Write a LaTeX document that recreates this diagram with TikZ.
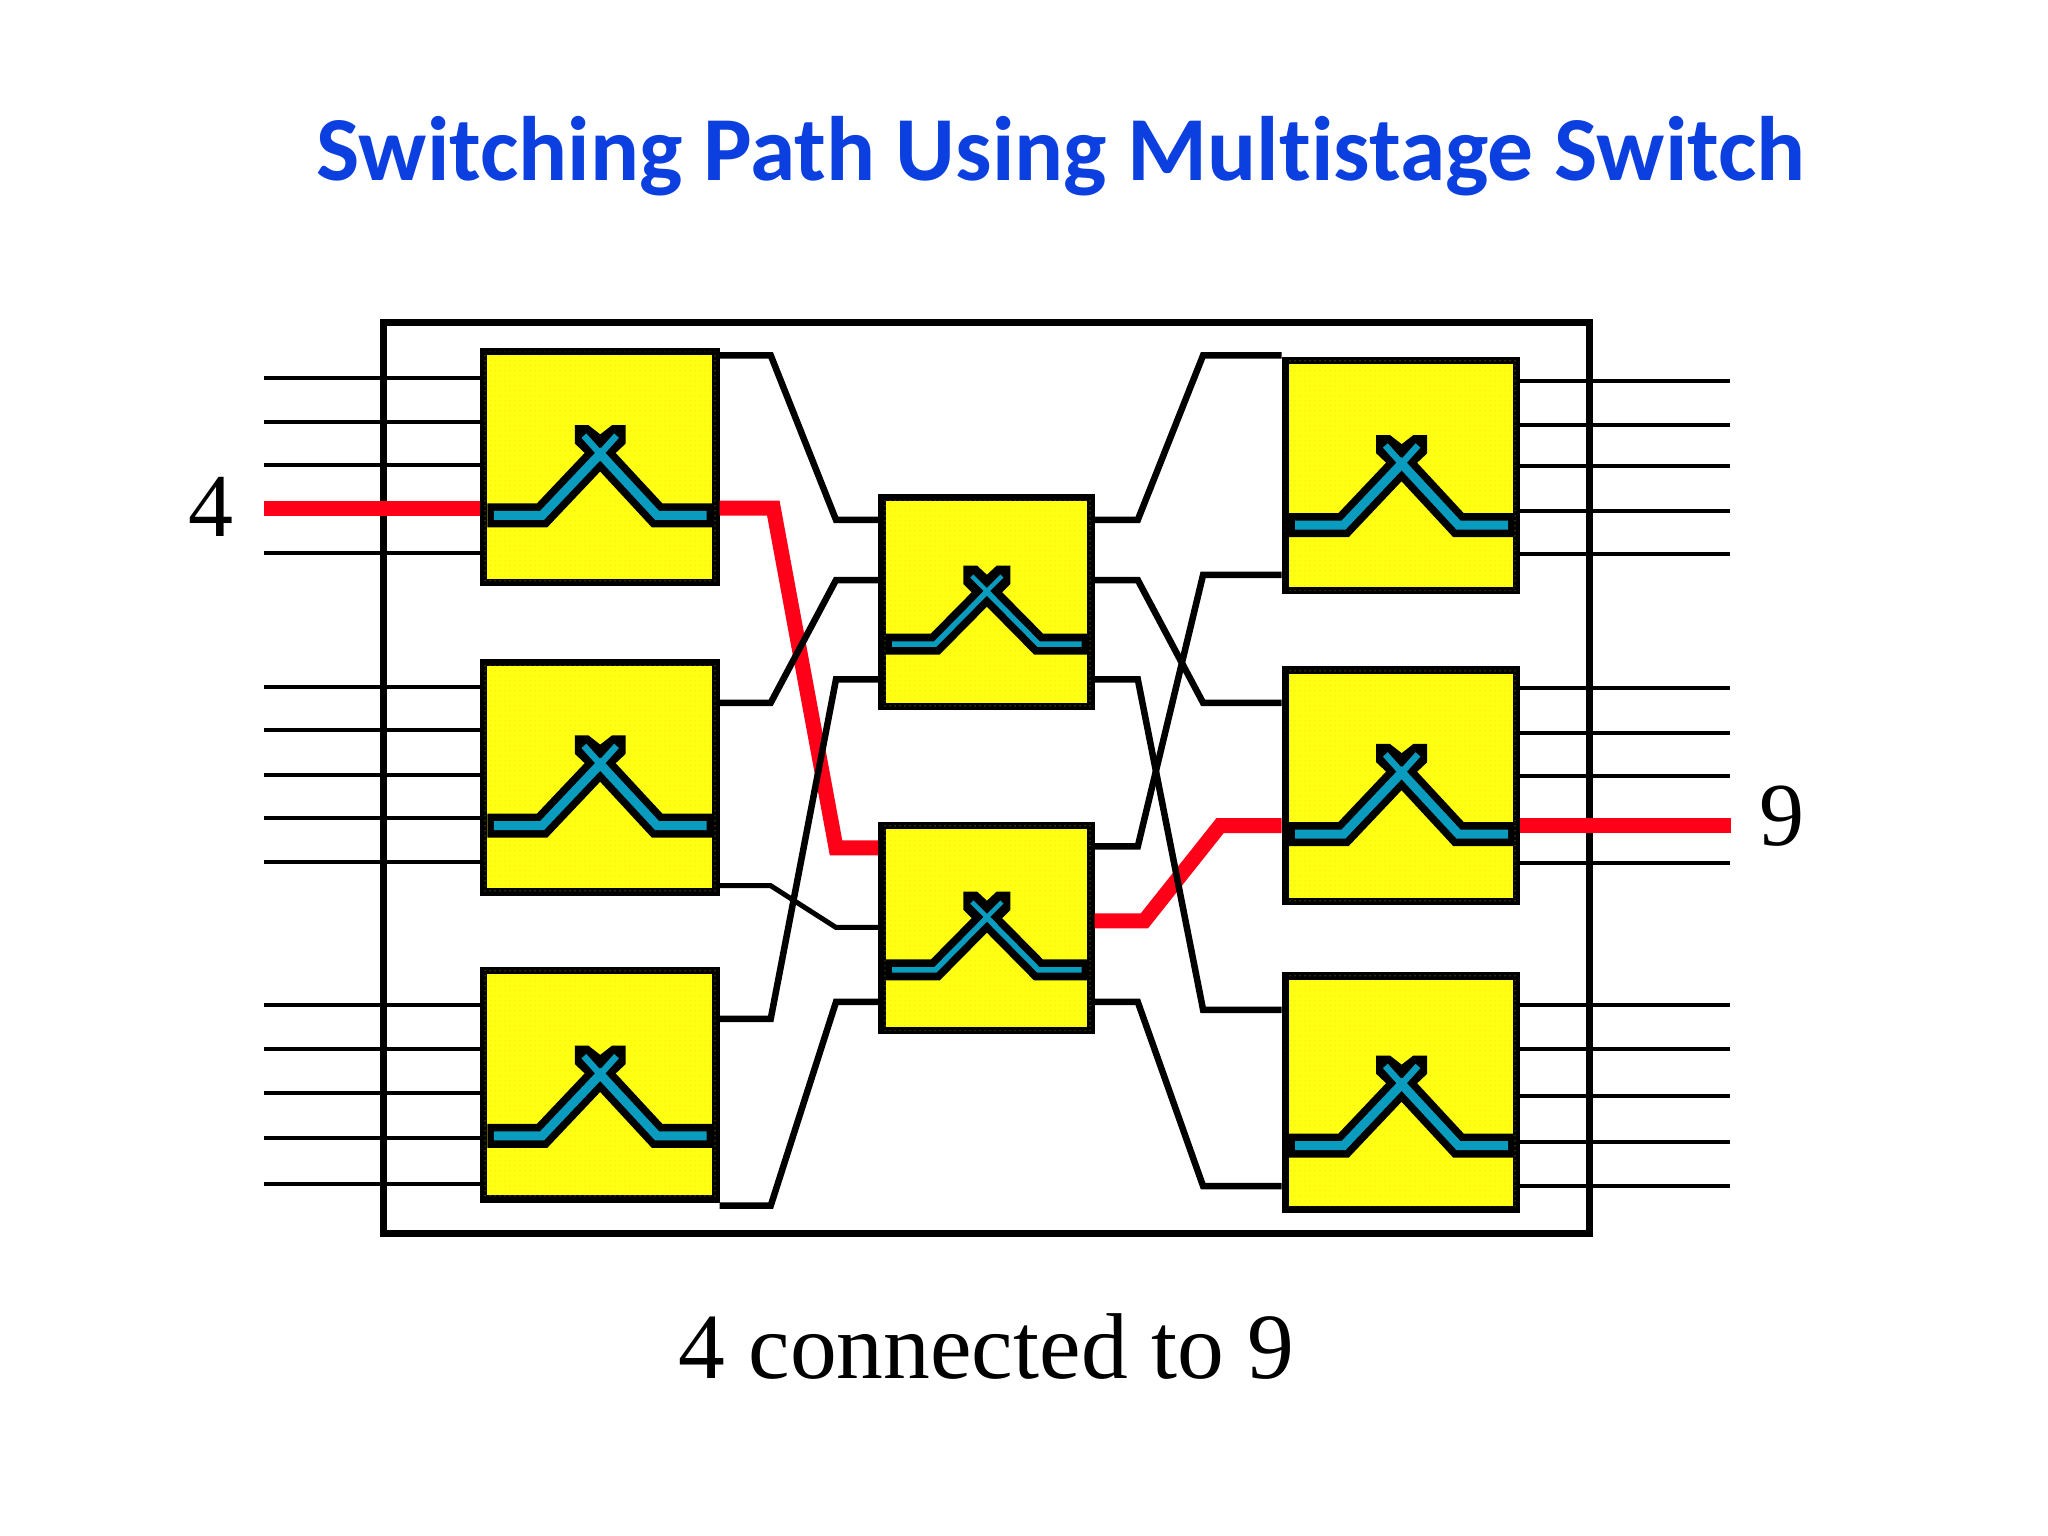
\documentclass[tikz,border=0pt]{standalone}
\usepackage{fontspec}
\setmainfont{Liberation Serif}
\newfontfamily\titlefont[Ligatures={NoCommon}]{Carlito}
\usetikzlibrary{patterns.meta}
\definecolor{titleblue}{HTML}{0B3FE0}
\definecolor{swyellow}{HTML}{FFFF14}
\definecolor{swdot}{HTML}{F4CC00}
\definecolor{swcyan}{HTML}{0A9CBE}
\definecolor{pathred}{HTML}{FF0019}
\tikzset{
  frame/.style={draw=black,line width=7pt,fill=none,inner sep=0pt},
  swbox/.style={draw=black,line width=7.5pt,fill=swyellow,inner sep=0pt,
    postaction={pattern={Dots[distance=5pt,radius=0.5pt]},pattern color=swdot}},
  thin line/.style={draw=black,line width=4pt},
  wire/.style={draw=black,line width=6.5pt,line join=miter},
  slim wire/.style={draw=black,line width=5pt,line join=miter},
  thick wire/.style={draw=pathred,line width=15pt,line join=miter},
  glyphbig/.pic={
    \fill[black] (-19,-32)--(-8.5,-32)--(0.5,-25)--(9.5,-32)--(20,-32)--(20,-18)--(10.5,-9)--(-9.5,-9)--(-19,-18)--cycle;
    \draw[black,line width=24pt,line join=miter] (-86,37)--(-44,37)--(0.5,-10)--(44,37)--(86,37);
    \draw[swcyan,line width=9pt,line join=miter] (-81,37)--(-44,37)--(0.5,-10)--(44,37)--(82,37);
    \draw[swcyan,line width=6.5pt] (-12,-24)--(6,-4);
    \draw[swcyan,line width=6.5pt] (13,-24)--(-5,-4);
  },
  glyphmid/.pic={
    \fill[black] (-17.5,-29)--(-7,-29)--(0.5,-22)--(8,-29)--(18.5,-29)--(18.5,-15)--(10.5,-7)--(-9.5,-7)--(-17.5,-15)--cycle;
    \draw[black,line width=21pt,line join=miter] (-77,31)--(-39,31)--(0.5,-9)--(40,31)--(77,31);
    \draw[swcyan,line width=5.5pt,line join=miter] (-72,31)--(-39,31)--(0.5,-9)--(40,31)--(73,31);
    \draw[swcyan,line width=4.5pt] (-11,-21)--(7,-3);
    \draw[swcyan,line width=4.5pt] (12,-21)--(-6,-3);
  }
}
\begin{document}
\begin{tikzpicture}[x=1.3063pt,y=-1.3063pt]
\useasboundingbox (0,0) rectangle (1567.8,1175.8);
\node[inner sep=0pt,anchor=base,text=titleblue,font={\titlefont\bfseries\fontsize{91.5pt}{100pt}\selectfont}] (title) at (812,138) {Switching Path Using Multistage Switch};
\node[inner sep=0pt,anchor=base,font={\fontsize{93.5pt}{100pt}\selectfont}] (caption) at (755,1055) {4 connected to 9};
\node[inner sep=0pt,anchor=base,font={\fontsize{90pt}{100pt}\selectfont}] (in4) at (161.5,410.5) {4};
\node[inner sep=0pt,anchor=base,font={\fontsize{90pt}{100pt}\selectfont}] (out9) at (1364.5,647.5) {9};
\node[frame,minimum width=1.3063*923pt,minimum height=1.3063*697pt] (outer) at (755,595.5) {};
% switch boxes
\foreach \n/\cx/\cy/\w/\h/\g/\gy in {L1/459/357.5/178/177/glyphbig/357.5,L2/459/595/178/176/glyphbig/595,L3/459/830.5/178/175/glyphbig/832.5,
  M1/755/461/160/160/glyphmid/462,M2/755/710.5/160/157/glyphmid/711.5,
  R1/1072.5/364/177/176/glyphbig/365,R2/1072.5/601.5/177/177/glyphbig/601.5,R3/1072.5/836.5/177/179/glyphbig/840}{
  \node[swbox,minimum width=1.3063*\w pt,minimum height=1.3063*\h pt] (\n) at (\cx,\cy) {};
  \pic at (\cx,\gy) {\g};
}
% outside lines
\foreach \y in {289,323,356,423}{\draw[thin line] (202,\y)--(L1.west |- 0,\y);}
\foreach \y in {526,559,593,626,660}{\draw[thin line] (202,\y)--(L2.west |- 0,\y);}
\foreach \y in {769,803,837,871,906}{\draw[thin line] (202,\y)--(L3.west |- 0,\y);}
\foreach \y in {292,325,357,391,424}{\draw[thin line] (R1.east |- 0,\y)--(1324,\y);}
\foreach \y in {527,561,594,661}{\draw[thin line] (R2.east |- 0,\y)--(1324,\y);}
\foreach \y in {769,803,839,874,908}{\draw[thin line] (R3.east |- 0,\y)--(1324,\y);}
% red path
\draw[thick wire] (202,389)--(L1.west |- 0,389);
\draw[thick wire] (L1.east |- 0,389)--(592,389)--(640,649)--(M2.west |- 0,649);
\draw[thick wire] (M2.east |- 0,705)--(876,705)--(934,632)--(R2.west |- 0,632);
\draw[thick wire] (R2.east |- 0,632)--(1325,632);
% black connectors
\draw[wire] (L1.east |- 0,272)--(590,272)--(640,398)--(M1.west |- 0,398);
\draw[wire] (L2.east |- 0,538)--(590,538)--(640,444)--(M1.west |- 0,444);
\draw[slim wire] (L2.east |- 0,678)--(590,678)--(640,710)--(M2.west |- 0,710);
\draw[wire] (L3.east |- 0,780)--(590,780)--(640,520)--(M1.west |- 0,520);
\draw[wire] (L3.east |- 0,923)--(590,923)--(640,767)--(M2.west |- 0,767);
\draw[wire] (M1.east |- 0,398)--(871,398)--(921,272)--(R1.west |- 0,272);
\draw[wire] (M1.east |- 0,444)--(871,444)--(921,538)--(R2.west |- 0,538);
\draw[wire] (M1.east |- 0,520)--(871,520)--(921,773)--(R3.west |- 0,773);
\draw[wire] (M2.east |- 0,648)--(871,648)--(921,440)--(R1.west |- 0,440);
\draw[wire] (M2.east |- 0,767)--(871,767)--(921,908)--(R3.west |- 0,908);
\end{tikzpicture}
\end{document}
